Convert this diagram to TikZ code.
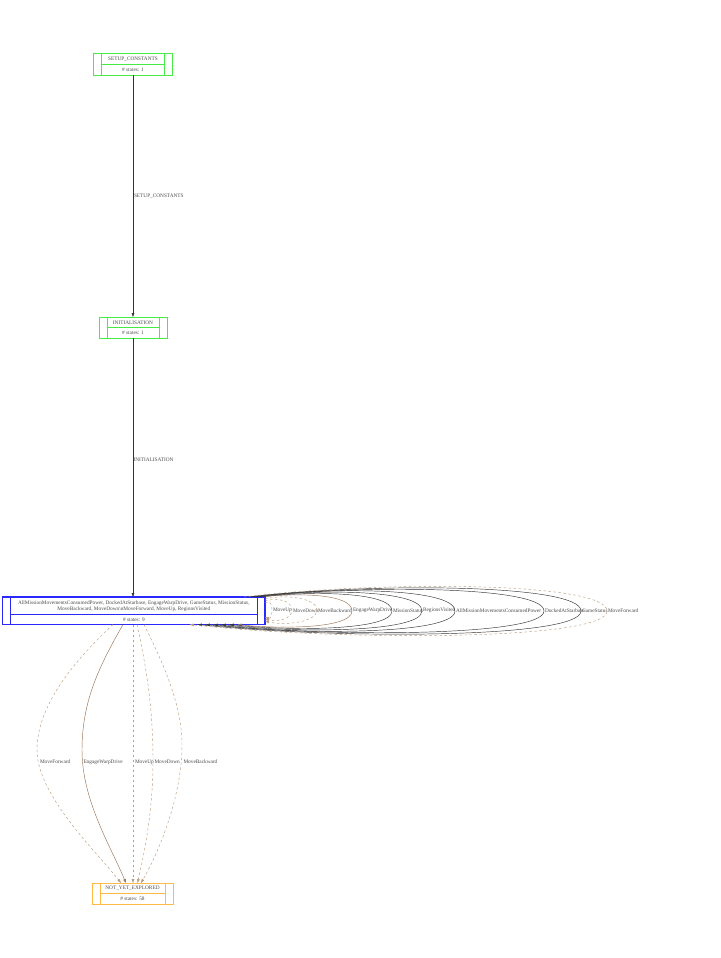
\documentclass[tikz,border=0pt]{standalone}
\usepackage{fontspec}
\setmainfont{Liberation Serif}
\usetikzlibrary{arrows.meta}
\definecolor{gvgreen}{RGB}{70,235,70}
\definecolor{gvblue}{RGB}{40,40,255}
\definecolor{gvorange}{RGB}{255,185,70}
\definecolor{tanc}{RGB}{185,155,125}
\definecolor{brownc}{RGB}{150,115,85}
\definecolor{lblgray}{RGB}{75,75,75}
\begin{document}
\begin{tikzpicture}[x=1pt,y=-1pt,
  every node/.style={font=\fontsize{5.3}{6.2}\selectfont, inner sep=0pt, outer sep=0pt},
  recbox/.style={draw, rectangle, line width=0.5pt},
  txt/.style={text=lblgray},
  edgelbl/.style={text=lblgray, anchor=west},
  arr/.style={-{Triangle[length=4pt,width=2.6pt]}, line width=0.45pt},
  dsh/.style={dash pattern=on 2.5pt off 2.5pt},
  blk/.style={arr, black!80},
  tanarr/.style={arr, tanc, dsh},
  brarr/.style={arr, brownc},
  looplbl/.style={text=lblgray, anchor=west}
]
\useasboundingbox (0,0) rectangle (720,958);

% SETUP_CONSTANTS
\node[recbox, draw=gvgreen, minimum width=79pt, minimum height=21.5pt] (setup) at (133,64) {};
\draw[gvgreen, line width=0.5pt]
  ([xshift=8pt]setup.north west) -- ([xshift=8pt]setup.south west)
  ([xshift=-8pt]setup.north east) -- ([xshift=-8pt]setup.south east)
  ([xshift=8pt]setup.west) -- ([xshift=-8pt]setup.east);
\node[txt] (setupA) at (133,58.8) {SETUP\_CONSTANTS};
\node[txt] (setupB) at (133,69.3) {\# states: 1};

% INITIALISATION
\node[recbox, draw=gvgreen, minimum width=68pt, minimum height=21pt] (init) at (133,327.5) {};
\draw[gvgreen, line width=0.5pt]
  ([xshift=8pt]init.north west) -- ([xshift=8pt]init.south west)
  ([xshift=-8pt]init.north east) -- ([xshift=-8pt]init.south east)
  ([xshift=8pt]init.west) -- ([xshift=-8pt]init.east);
\node[txt] (initA) at (133,322.3) {INITIALISATION};
\node[txt] (initB) at (133,332.8) {\# states: 1};

% main state
\node[recbox, draw=gvblue, line width=1.1pt, minimum width=262.3pt, minimum height=27.5pt] (big) at (133.85,610.75) {};
\draw[gvblue, line width=0.8pt]
  ([xshift=8pt]big.north west) -- ([xshift=8pt]big.south west)
  ([xshift=-8pt]big.north east) -- ([xshift=-8pt]big.south east)
  ([xshift=8pt,yshift=-3.25pt]big.west) -- ([xshift=-8pt,yshift=-3.25pt]big.east);
\node[txt] (bigA) at (133.85,603.3) {AllMissionMovementsConsumedPower, DockedAtStarbase, EngageWarpDrive, GameStatus, MissionStatus,};
\node[txt] (bigB) at (133.85,609.3) {MoveBackward, MoveDown\textbackslash nMoveForward, MoveUp, RegionsVisited};
\node[txt] (bigC) at (133.85,619.5) {\# states: 9};

% NOT_YET_EXPLORED
\node[recbox, draw=gvorange, minimum width=81pt, minimum height=21pt] (nye) at (132.5,893.5) {};
\draw[gvorange, line width=0.5pt]
  ([xshift=8.5pt]nye.north west) -- ([xshift=8.5pt]nye.south west)
  ([xshift=-8pt]nye.north east) -- ([xshift=-8pt]nye.south east)
  ([xshift=8.5pt]nye.west) -- ([xshift=-8pt]nye.east);
\node[txt] (nyeA) at (132.5,888.5) {NOT\_YET\_EXPLORED};
\node[txt] (nyeB) at (132.5,898.8) {\# states: 58};

% chain edges
\draw[blk] (setup.south) -- (init.north);
\node[edgelbl] (l1) at (134,196) {SETUP\_CONSTANTS};
\draw[blk] (init.south) -- ([xshift=-0.85pt]big.north);
\node[edgelbl] (l2) at (133.5,460) {INITIALISATION};

% edges to NOT_YET_EXPLORED
\draw[tanarr] ([xshift=-20.85pt]big.south) .. controls (75,660) and (37,705) .. (37,750)
  .. controls (37,795) and (95,850) .. ([xshift=-11.5pt]nye.north);
\node[edgelbl] (e1) at (40,762) {MoveForward};
\draw[brarr] ([xshift=-10.85pt]big.south) .. controls (100,665) and (82,700) .. (82,750)
  .. controls (82,800) and (110,845) .. ([xshift=-6.5pt]nye.north);
\node[edgelbl] (e2) at (83.5,762) {EngageWarpDrive};
\draw[tanarr] ([xshift=-0.85pt]big.south) -- ([xshift=0.5pt]nye.north);
\node[edgelbl] (e3) at (135,762) {MoveUp};
\draw[tanarr] ([xshift=3.15pt]big.south) .. controls (147,670) and (153,710) .. (153,760)
  .. controls (153,810) and (145,850) .. ([xshift=5pt]nye.north);
\node[edgelbl] (e4) at (154.5,762) {MoveDown};
\draw[tanarr] ([xshift=10.15pt]big.south) .. controls (164,665) and (182,705) .. (182,745)
  .. controls (182,795) and (160,850) .. ([xshift=8.5pt]nye.north);
\node[edgelbl] (e5) at (183.5,762) {MoveBackward};

% self loops
\draw[tanarr] ([yshift=7.75pt]big.east) .. controls (270,600) and (272,604) .. (272,610)
  .. controls (272,616) and (270,619) .. ([yshift=-6.25pt]big.east);
\node[looplbl] (s1) at (273,610.5) {MoveUp};
\draw[tanarr] ([yshift=9.75pt]big.east) .. controls (278,597) and (292,601) .. (292,610)
  .. controls (292,619) and (278,622) .. ([yshift=-8.25pt]big.east);
\node[looplbl] (s2) at (293,610.5) {MoveDown};
\draw[tanarr] ([yshift=11.75pt]big.east) .. controls (285,594) and (317,598) .. (317,610)
  .. controls (317,622) and (285,626) .. ([yshift=-10.25pt]big.east);
\node[looplbl] (s3) at (318,610.5) {MoveBackward};
\draw[brarr] ([xshift=-3pt]big.north east) .. controls (293.5,593) and (352,593) .. (352,611)
  .. controls (352,629) and (278,629) .. ([xshift=104pt]big.south);
\node[looplbl] (s4) at (353,610.5) {EngageWarpDrive};
\draw[blk] ([xshift=-6pt]big.north east) .. controls (305.5,591) and (392,591) .. (392,611)
  .. controls (392,631) and (287,631) .. ([xshift=96pt]big.south);
\node[looplbl] (s5) at (393,610.5) {MissionStatus};
\draw[blk] ([xshift=-9pt]big.north east) .. controls (314,589) and (422,589) .. (422,611)
  .. controls (422,633) and (292,633) .. ([xshift=88pt]big.south);
\node[looplbl] (s6) at (423,610.5) {RegionsVisited};
\draw[blk] ([xshift=-12pt]big.north east) .. controls (324,587) and (455,587) .. (455,611)
  .. controls (455,635) and (298,635) .. ([xshift=80pt]big.south);
\node[looplbl] (s7) at (456,610.5) {AllMissionMovementsConsumedPower};
\draw[blk] ([xshift=-15pt]big.north east) .. controls (353,585) and (544,585) .. (544,611)
  .. controls (544,637) and (324,637) .. ([xshift=72pt]big.south);
\node[looplbl] (s8) at (545,610.5) {DockedAtStarbase};
\draw[blk] ([xshift=-18pt]big.north east) .. controls (364,583) and (581,583) .. (581,611)
  .. controls (581,639) and (332,639) .. ([xshift=64pt]big.south);
\node[looplbl] (s9) at (582,610.5) {GameStatus};
\draw[tanarr] ([xshift=-21pt]big.north east) .. controls (371,581) and (607,581) .. (607,611)
  .. controls (607,641) and (336,641) .. ([xshift=56pt]big.south);
\node[looplbl] (s10) at (608,610.5) {MoveForward};
\end{tikzpicture}
\end{document}
